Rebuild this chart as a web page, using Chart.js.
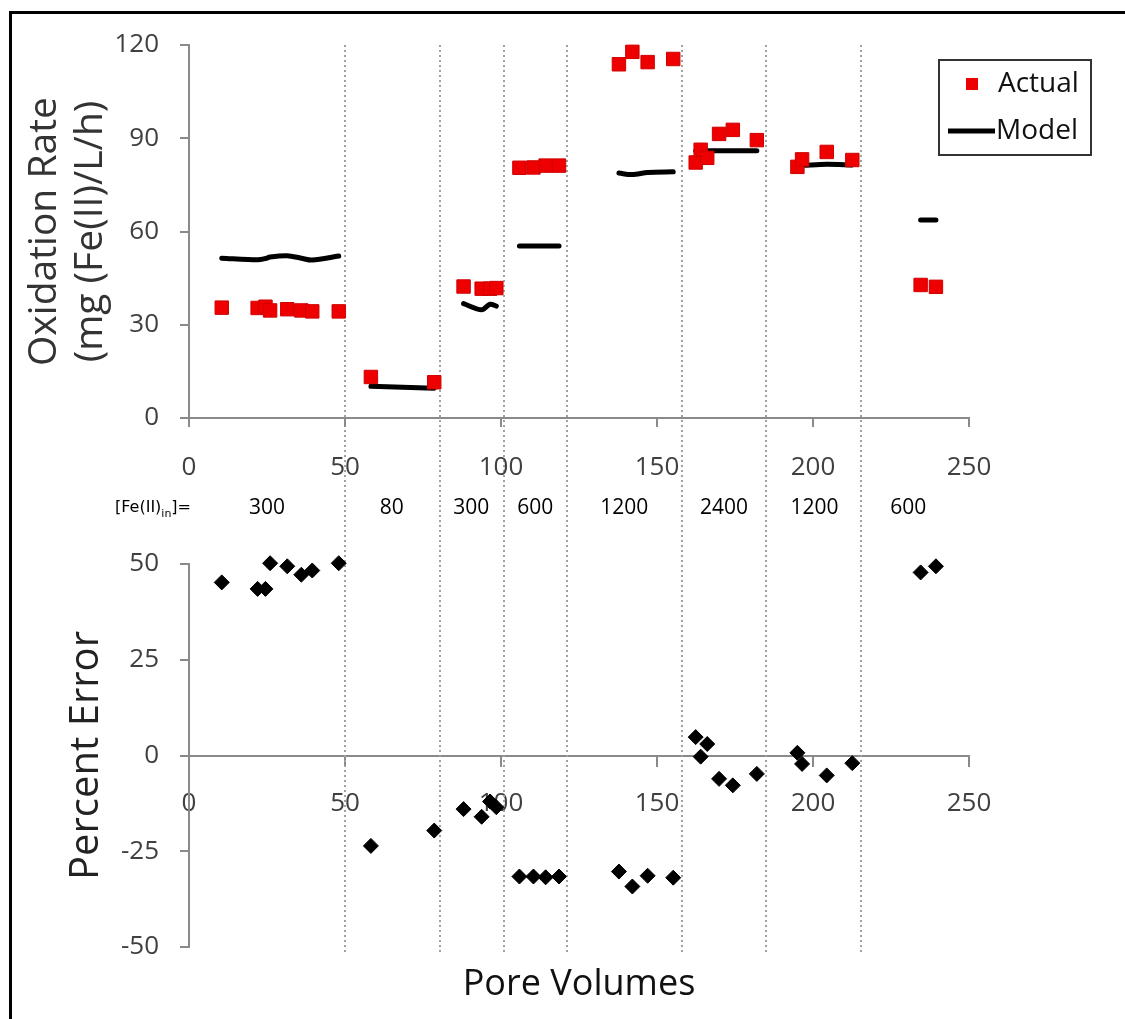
<!DOCTYPE html>
<html>
<head>
<meta charset="UTF-8" />
<script src="https://cdn.jsdelivr.net/npm/chart.js@4.4.0/dist/chart.umd.min.js"></script>
<style>
  html, body { margin: 0; padding: 0; background: #fff; overflow: hidden; }
  #wrap { position: relative; width: 1125px; height: 1019px; overflow: hidden; background: #fff; }
  #frameTop { position: absolute; left: 9px; top: 11px; width: 1116px; height: 3px; background: #000; }
  #frameLeft { position: absolute; left: 9px; top: 11px; width: 3px; height: 1008px; background: #000; }
  canvas { position: absolute; left: 0; top: 0; }
</style>
</head>
<body>
<div id="wrap">
  <div id="frameTop"></div>
  <div id="frameLeft"></div>
  <canvas id="errChart" width="1125" height="1019"></canvas>
  <canvas id="rateChart" width="1125" height="1019"></canvas>
</div>
<script>
// ---- values ----
const sectionEdges   = [50, 80.5, 101, 121, 158, 185, 215.5];
const sectionLabelX  = [25, 65, 90.5, 111, 139.5, 171.5, 200.5, 230.5];
const sectionLabels  = ['300', '80', '300', '600', '1200', '2400', '1200', '600'];

const poreVol = [10.5, 22, 24.5, 26, 31.5, 36, 39.5, 48,
                 58.3, 78.6,
                 88, 93.8, 96.5, 98.5,
                 105.9, 110.4, 114.3, 118.6,
                 137.8, 142.1, 147, 155.2,
                 162.4, 164, 166.1, 169.9, 174.3, 182,
                 195, 196.5, 204.4, 212.6,
                 234.5, 239.4];
const sectionOf = [0,0,0,0,0,0,0,0, 1,1, 2,2,2,2, 3,3,3,3, 4,4,4,4, 5,5,5,5,5,5, 6,6,6,6, 7,7];

const actualRate = [35.5, 35.4, 35.8, 34.6, 35.0, 34.6, 34.3, 34.3,
                    13.2, 11.5,
                    42.3, 41.6, 41.6, 41.8,
                    80.5, 80.6, 81.2, 81.2,
                    113.8, 117.8, 114.5, 115.5,
                    82.2, 86.3, 83.7, 91.4, 92.7, 89.4,
                    80.8, 83.2, 85.6, 83.0,
                    42.8, 42.2];
const modelRate = [51.4, 50.9, 51.3, 51.8, 52.2, 51.4, 50.8, 52.1,
                   10.2, 9.6,
                   36.8, 34.8, 36.6, 36.0,
                   55.3, 55.3, 55.3, 55.3,
                   78.8, 78.3, 79.0, 79.2,
                   86.0, 86.0, 86.0, 86.0, 86.0, 86.0,
                   81.3, 81.3, 81.6, 81.4,
                   63.7, 63.7];
const percentError = [45.2, 43.5, 43.5, 50.2, 49.4, 47.2, 48.3, 50.2,
                      -23.6, -19.6,
                      -14, -16, -12, -13.5,
                      -31.6, -31.6, -31.8, -31.6,
                      -30.3, -34.2, -31.4, -31.9,
                      4.8, -0.3, 3.0, -6.1, -7.8, -4.8,
                      0.7, -2.2, -5.2, -2.0,
                      47.8, 49.4];

// ---- build datasets ----
const actualPts = poreVol.map((x, i) => ({x: x, y: actualRate[i]}));
const errorPts = poreVol.map((x, i) => ({x: x, y: percentError[i]}));
const modelPts = [];
poreVol.forEach((x, i) => {
  if (i > 0 && sectionOf[i] !== sectionOf[i - 1]) {
    modelPts.push({x: (x + poreVol[i - 1]) / 2, y: null}); // break the line between runs
  }
  modelPts.push({x: x, y: modelRate[i]});
});

Chart.defaults.font.family = "'Open Sans', sans-serif";
Chart.defaults.color = '#404040';

const AXIS_GRAY = '#8a8a8a';
const tickFont = {size: 26};

// dotted dividers + [Fe(II)in] band, drawn from the lower chart's x scale
const bandPlugin = {
  id: 'bandPlugin',
  beforeDatasetsDraw(chart) {
    const ctx = chart.ctx, xs = chart.scales.x;
    ctx.save();
    ctx.strokeStyle = '#a0a0a0';
    ctx.lineWidth = 2;
    ctx.setLineDash([2, 3]);
    sectionEdges.forEach(v => {
      const px = Math.round(xs.getPixelForValue(v));
      ctx.beginPath();
      ctx.moveTo(px, 45);
      ctx.lineTo(px, 955);
      ctx.stroke();
    });
    ctx.restore();
  },
  afterDraw(chart) {
    const ctx = chart.ctx, xs = chart.scales.x;
    const yMid = 508;
    ctx.save();
    ctx.fillStyle = '#000';
    ctx.textBaseline = 'middle';
    // [Fe(II)in]=
    let x = 115;
    ctx.textAlign = 'left';
    ctx.font = "16px 'DejaVu Sans'";
    ctx.fillText('[Fe(II)', x, yMid);
    x += ctx.measureText('[Fe(II)').width;
    ctx.font = "11px 'DejaVu Sans'";
    ctx.fillText('in', x, yMid + 6);
    x += ctx.measureText('in').width;
    ctx.font = "16px 'DejaVu Sans'";
    ctx.fillText(']=', x, yMid);
    // concentrations
    ctx.textAlign = 'center';
    ctx.font = "21px 'Open Sans'";
    sectionLabels.forEach((t, i) => {
      ctx.fillText(t, xs.getPixelForValue(sectionLabelX[i]), yMid);
    });
    ctx.restore();
  }
};

// boxed legend in the upper right
const legendBox = {
  id: 'legendBox',
  afterDraw(chart) {
    const ctx = chart.ctx;
    const act = chart.data.datasets[0], mod = chart.data.datasets[1];
    ctx.save();
    ctx.strokeStyle = '#333';
    ctx.lineWidth = 2;
    ctx.strokeRect(939, 60, 152, 95);
    ctx.fillStyle = act.backgroundColor;
    ctx.fillRect(966, 78, 12, 12);
    ctx.strokeStyle = mod.borderColor;
    ctx.lineWidth = mod.borderWidth;
    ctx.beginPath();
    ctx.moveTo(948, 131);
    ctx.lineTo(995, 131);
    ctx.stroke();
    ctx.fillStyle = '#111';
    ctx.font = "28px 'Open Sans'";
    ctx.textBaseline = 'middle';
    ctx.textAlign = 'left';
    ctx.fillText(act.label, 998, 84);
    ctx.fillText(mod.label, 996, 131);
    ctx.restore();
  }
};

new Chart(document.getElementById('rateChart'), {
  type: 'scatter',
  data: {
    datasets: [
      {
        label: 'Actual',
        data: actualPts,
        pointStyle: 'rect',
        pointRadius: 9.5,
        backgroundColor: '#ee0000',
        borderColor: '#d00000',
        borderWidth: 1,
        clip: false,
        order: 1
      },
      {
        label: 'Model',
        type: 'line',
        data: modelPts,
        borderColor: '#000',
        borderWidth: 5,
        pointRadius: 0,
        spanGaps: false,
        tension: 0.3,
        borderCapStyle: 'round',
        order: 2
      }
    ]
  },
  options: {
    responsive: false,
    animation: false,
    layout: {padding: {top: 45, right: 156, left: 0, bottom: 0}},
    plugins: {legend: {display: false}, tooltip: {enabled: false}},
    scales: {
      x: {
        type: 'linear', min: 0, max: 250,
        ticks: {stepSize: 50, font: tickFont, padding: 25, color: '#404040'},
        grid: {drawOnChartArea: false, tickLength: 9, color: AXIS_GRAY, lineWidth: 2},
        border: {color: AXIS_GRAY, width: 2},
        afterFit(s) { s.height = 1019 - 418; }
      },
      y: {
        min: 0, max: 120,
        ticks: {stepSize: 30, font: tickFont, padding: 21, color: '#404040'},
        grid: {drawOnChartArea: false, tickLength: 9, color: AXIS_GRAY, lineWidth: 2},
        border: {color: AXIS_GRAY, width: 2},
        title: {
          display: true,
          text: ['Oxidation Rate', '(mg (Fe(II)/L/h)'],
          color: '#333',
          font: {size: 39, lineHeight: 1.2},
          padding: {top: 21, bottom: 0}
        },
        afterFit(s) { s.width = 189; }
      }
    }
  },
  plugins: [legendBox]
});

new Chart(document.getElementById('errChart'), {
  type: 'scatter',
  data: {
    datasets: [{
      label: 'Percent Error',
      data: errorPts,
      pointStyle: 'rectRot',
      pointRadius: 7.5,
      backgroundColor: '#000',
      borderColor: '#000',
      borderWidth: 1,
      clip: false
    }]
  },
  options: {
    responsive: false,
    animation: false,
    layout: {padding: {top: 564, right: 156, left: 0, bottom: 0}},
    plugins: {legend: {display: false}, tooltip: {enabled: false}},
    scales: {
      x: {
        type: 'linear', min: 0, max: 250,
        position: {y: 0},
        ticks: {stepSize: 50, font: tickFont, padding: 22, color: '#404040'},
        grid: {drawOnChartArea: false, tickLength: 10, color: AXIS_GRAY, lineWidth: 2},
        border: {color: AXIS_GRAY, width: 2}
      },
      x2: {
        type: 'linear', min: 0, max: 250, position: 'bottom',
        ticks: {display: false},
        grid: {display: false},
        border: {display: false},
        title: {
          display: true,
          text: 'Pore Volumes',
          color: '#111',
          font: {size: 36, lineHeight: 1.2},
          padding: {top: 0, bottom: 13}
        },
        afterFit(s) { s.height = 1019 - 947; }
      },
      y: {
        min: -50, max: 50,
        ticks: {stepSize: 25, font: tickFont, padding: 21, color: '#404040'},
        grid: {drawOnChartArea: false, tickLength: 9, color: AXIS_GRAY, lineWidth: 2},
        border: {color: AXIS_GRAY, width: 2},
        title: {
          display: true,
          text: 'Percent Error',
          color: '#222',
          font: {size: 40, lineHeight: 1.2},
          padding: {top: 63, bottom: 0}
        },
        afterFit(s) { s.width = 189; }
      }
    }
  },
  plugins: [bandPlugin]
});
</script>
</body>
</html>
